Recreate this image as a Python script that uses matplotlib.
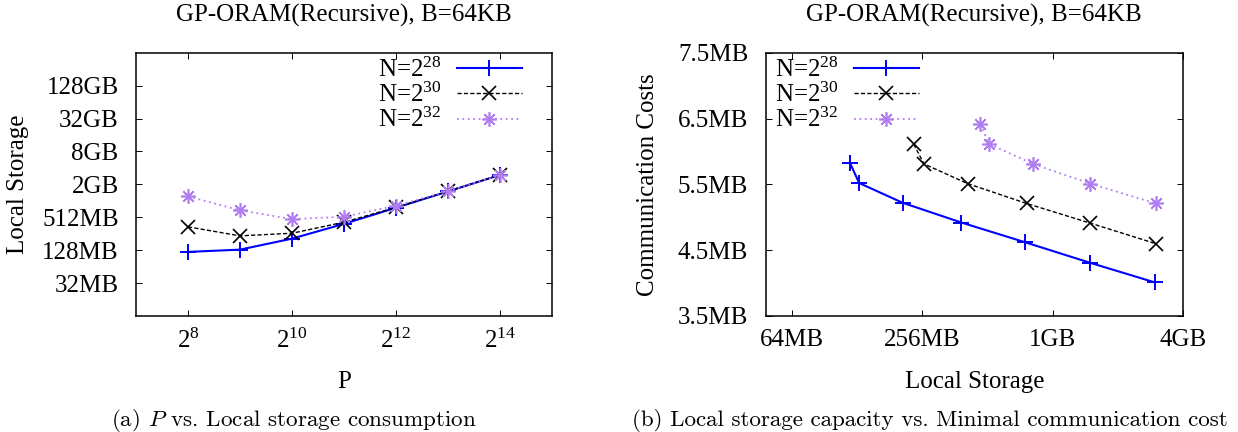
import matplotlib
matplotlib.use('Agg')
import matplotlib.pyplot as plt
from matplotlib.ticker import FixedLocator, NullLocator

# %% ============================ Data ========================================
P = [256, 512, 1024, 2048, 4096, 8192, 16384]
P_labels = [r'$2^{8}$', r'$2^{10}$', r'$2^{12}$', r'$2^{14}$']
P_ticks = [256, 1024, 4096, 16384]

# local storage (MB) for each P
storage_n28 = [119, 131, 208, 388, 765, 1520, 3040]
storage_n30 = [342, 234, 261, 416, 776, 1531, 3062]
storage_n32 = [1235, 685, 474, 523, 832, 1531, 3062]

# minimal communication cost (MB), N=2^30 starts at P=2^9, N=2^32 at P=2^10
comm_n28 = [5.82, 5.52, 5.22, 4.92, 4.62, 4.31, 4.01]
comm_n30 = [6.11, 5.81, 5.51, 5.21, 4.91, 4.60]
comm_n32 = [6.41, 6.11, 5.81, 5.51, 5.21]

storage_ticks = [32, 128, 512, 2048, 8192, 32768, 131072]
storage_labels = ['32MB', '128MB', '512MB', '2GB', '8GB', '32GB', '128GB']
store_x_ticks = [64, 256, 1024, 4096]
store_x_labels = ['64MB', '256MB', '1GB', '4GB']
comm_ticks = [3.5, 4.5, 5.5, 6.5, 7.5]
comm_labels = ['3.5MB', '4.5MB', '5.5MB', '6.5MB', '7.5MB']

labels = [r'N=$2^{28}$', r'N=$2^{30}$', r'N=$2^{32}$']

# %% ============================ Style =======================================
plt.rcParams['font.family'] = 'Liberation Serif'
plt.rcParams['mathtext.fontset'] = 'custom'
plt.rcParams['mathtext.rm'] = 'Liberation Serif'
plt.rcParams['mathtext.it'] = 'Liberation Serif:italic'
fs = 18

styles = [
    dict(color='#0000ff', ls='-', lw=1.5, marker='+', ms=11, mew=1.4),
    dict(color='black', ls=(0, (3, 1.6)), lw=1.0, marker='x', ms=9.5, mew=1.2),
    dict(color='#b07ef0', ls=(0, (1, 2)), lw=1.3, marker=(8, 2, 0), ms=10.5, mew=1.2),
]

fig = plt.figure(figsize=(12.38, 4.32), dpi=100)
W, H = 1238, 432


def box(x0, x1, y0, y1):
    return [x0 / W, 1 - y1 / H, (x1 - x0) / W, (y1 - y0) / H]


ax1 = fig.add_axes(box(136, 552, 52.7, 316))
ax2 = fig.add_axes(box(765.7, 1183, 52.7, 316))

# %% ============================ Left ========================================
for st, lab, y in zip(styles, labels, [storage_n28, storage_n30, storage_n32]):
    ax1.plot(P, y, label=lab, **st)

ax1.set_xscale('log', base=2)
ax1.set_yscale('log', base=2)
ax1.set_xlim(128, 32768)
ax1.set_ylim(8, 524288)
ax1.xaxis.set_major_locator(FixedLocator(P_ticks))
ax1.set_xticklabels(P_labels)
ax1.yaxis.set_major_locator(FixedLocator(storage_ticks))
ax1.set_yticklabels(storage_labels)
ax1.set_xlabel('P', fontsize=fs)
ax1.set_ylabel('Local Storage', fontsize=fs)

leg_kw = dict(frameon=False, markerfirst=False, numpoints=1, fontsize=fs,
              handlelength=2.6, handletextpad=0.6, labelspacing=0.04,
              borderpad=0, borderaxespad=0)
ax1.legend(loc='upper right', bbox_to_anchor=(0.927, 0.982), **leg_kw)

# %% ============================ Right =======================================
ax2.plot(storage_n28, comm_n28, label=labels[0], **styles[0])
ax2.plot(storage_n30[1:], comm_n30, label=labels[1], **styles[1])
ax2.plot(storage_n32[2:], comm_n32, label=labels[2], **styles[2])

ax2.set_xscale('log', base=2)
ax2.set_xlim(2 ** 5.6, 4096)
ax2.set_ylim(3.5, 7.5)
ax2.xaxis.set_major_locator(FixedLocator(store_x_ticks))
ax2.set_xticklabels(store_x_labels)
ax2.yaxis.set_major_locator(FixedLocator(comm_ticks))
ax2.set_yticklabels(comm_labels)
ax2.set_xlabel('Local Storage', fontsize=fs)
ax2.set_ylabel('Communication Costs', fontsize=fs)

ax2.legend(loc='upper left', bbox_to_anchor=(0.022, 0.982), **leg_kw)

for ax in (ax1, ax2):
    ax.xaxis.set_minor_locator(NullLocator())
    ax.yaxis.set_minor_locator(NullLocator())
    ax.tick_params(which='major', direction='in', top=True, right=True,
                   length=4.5, width=0.7, labelsize=fs)
    ax.tick_params(axis='x', pad=9.5)
    ax.tick_params(axis='y', pad=12.5)
    for s in ax.spines.values():
        s.set_linewidth(1.1)
    ax.xaxis.set_label_coords(0.5, -0.209)
    ax.yaxis.set_label_coords(-0.2566, 0.5)
    cx = (ax.get_position().x0 + ax.get_position().x1) / 2
    fig.text(cx, 1 - 15.5 / H, 'GP-ORAM(Recursive), B=64KB', fontsize=fs,
             ha='center', va='center')

# %% ============================ Captions ====================================
fig.text(294 / W, 1 - 420.5 / H, '(a) $P$ vs. Local storage consumption',
         family='cmr10', math_fontfamily='cm', fontsize=16.6,
         ha='center', va='center')
fig.text(929.5 / W, 1 - 420.5 / H,
         '(b) Local storage capacity vs. Minimal communication cost',
         family='cmr10', math_fontfamily='cm', fontsize=16.6,
         ha='center', va='center')

fig.savefig('out.png', dpi=100)
